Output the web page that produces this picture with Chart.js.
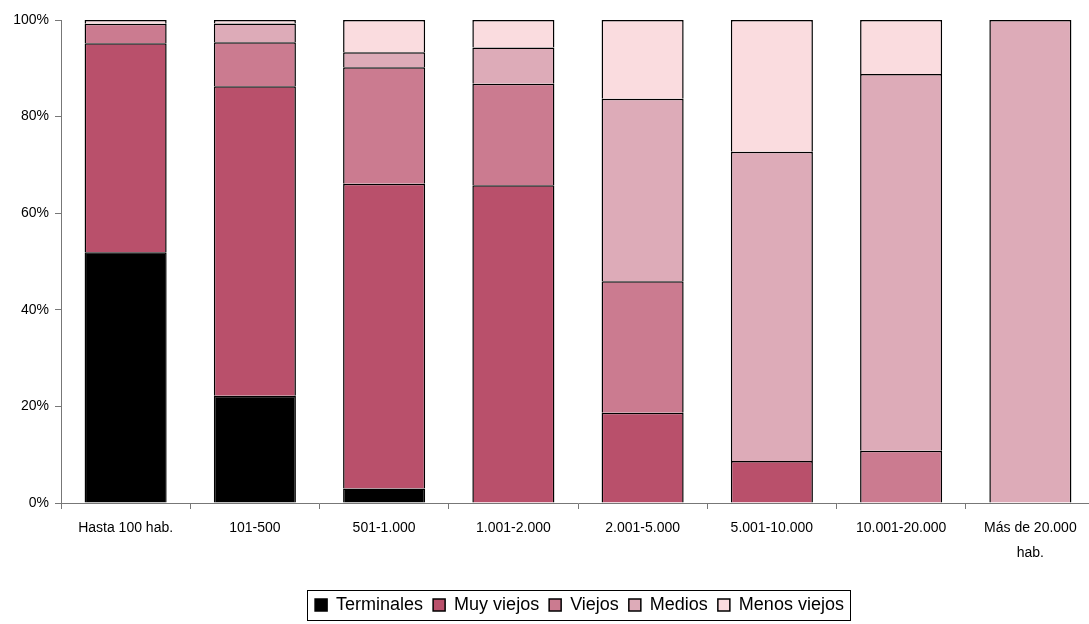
<!DOCTYPE html>
<html>
<head>
<meta charset="utf-8">
<script src="https://cdn.jsdelivr.net/npm/chart.js@4/dist/chart.umd.min.js"></script>
<style>
html,body{margin:0;padding:0;background:#fff;overflow:hidden;width:1089px;height:624px;}
#wrap{width:1095px;height:624px;}
</style>
</head>
<body>
<div id="wrap"><canvas id="c" width="1095" height="624"></canvas></div>
<script>
const categories = ['Hasta 100 hab.', '101-500', '501-1.000', '1.001-2.000', '2.001-5.000', '5.001-10.000', '10.001-20.000', ['Más de 20.000', 'hab.']];
const terminales  = [51.9, 22.2, 3.0, 0, 0, 0, 0, 0];
const muyViejos   = [43.3, 64.1, 63.1, 65.8, 18.7, 8.7, 0, 0];
const viejos      = [4.0, 9.1, 24.1, 21.0, 27.2, 0, 10.8, 0];
const medios      = [0, 3.9, 3.1, 7.5, 37.8, 64.0, 78.0, 100];
const menosViejos = [0.8, 0.7, 6.7, 5.7, 16.3, 27.3, 11.2, 0];
const yTicks = [0, 20, 40, 60, 80, 100];

const FONT = 'Liberation Sans, Arial, sans-serif';

function ds(label, data, color) {
  return {
    label: label, data: data, backgroundColor: color,
    borderColor: '#000', borderWidth: 1.5, borderSkipped: 'start',
    barPercentage: 0.635, categoryPercentage: 1.0
  };
}

const legendShift = {
  id: 'legendShift',
  afterLayout(chart) {
    const L = chart.legend;
    if (!L) return;
    L.left += 32; L.right += 32;
  }
};

const legendBorder = {
  id: 'legendBorder',
  afterDraw(chart) {
    const L = chart.legend;
    if (!L || !L.legendHitBoxes || !L.legendHitBoxes.length) return;
    let minX = Infinity, maxX = -Infinity, minY = Infinity, maxY = -Infinity;
    L.legendHitBoxes.forEach(b => {
      minX = Math.min(minX, b.left); maxX = Math.max(maxX, b.left + b.width);
      minY = Math.min(minY, b.top); maxY = Math.max(maxY, b.top + b.height);
    });
    const ctx = chart.ctx;
    ctx.save();
    ctx.strokeStyle = '#000';
    ctx.lineWidth = 1;
    ctx.strokeRect(Math.round(minX - 8) + 0.5, Math.round(minY - 6) + 0.5, Math.round(maxX - minX + 14), Math.round(maxY - minY + 12));
    ctx.restore();
  }
};

new Chart(document.getElementById('c'), {
  type: 'bar',
  data: {
    labels: categories,
    datasets: [
      ds('Terminales', terminales, '#000000'),
      ds('Muy viejos', muyViejos, '#b9506b'),
      ds('Viejos', viejos, '#cb7b90'),
      ds('Medios', medios, '#ddabb8'),
      ds('Menos viejos', menosViejos, '#fadcdf')
    ]
  },
  options: {
    responsive: false,
    animation: false,
    layout: { padding: { top: 20, right: 0, bottom: 0, left: 0 } },
    plugins: {
      tooltip: { enabled: false },
      legend: {
        position: 'bottom',
        labels: {
          boxWidth: 12, boxHeight: 12, padding: 10,
          color: '#000',
          font: { family: FONT, size: 18 }
        }
      }
    },
    scales: {
      x: {
        stacked: true,
        offset: true,
        border: { display: true, color: '#777', width: 1 },
        grid: { display: true, drawOnChartArea: false, drawTicks: true, tickLength: 6, color: '#777', offset: true },
        ticks: { color: '#000', font: { family: FONT, size: 14, lineHeight: 1.75 }, padding: 7, maxRotation: 0, autoSkip: false },
        afterFit(scale) { scale.height = 83; }
      },
      y: {
        stacked: true,
        min: 0, max: 100,
        border: { display: true, color: '#777', width: 1 },
        grid: { display: true, drawOnChartArea: false, drawTicks: true, tickLength: 6, color: '#777' },
        afterBuildTicks(scale) { scale.ticks = yTicks.map(v => ({ value: v })); },
        ticks: { color: '#000', font: { family: FONT, size: 14 }, padding: 6, callback: v => v + '%' },
        afterFit(scale) { scale.width = 61; }
      }
    }
  },
  plugins: [legendShift, legendBorder]
});
</script>
</body>
</html>
